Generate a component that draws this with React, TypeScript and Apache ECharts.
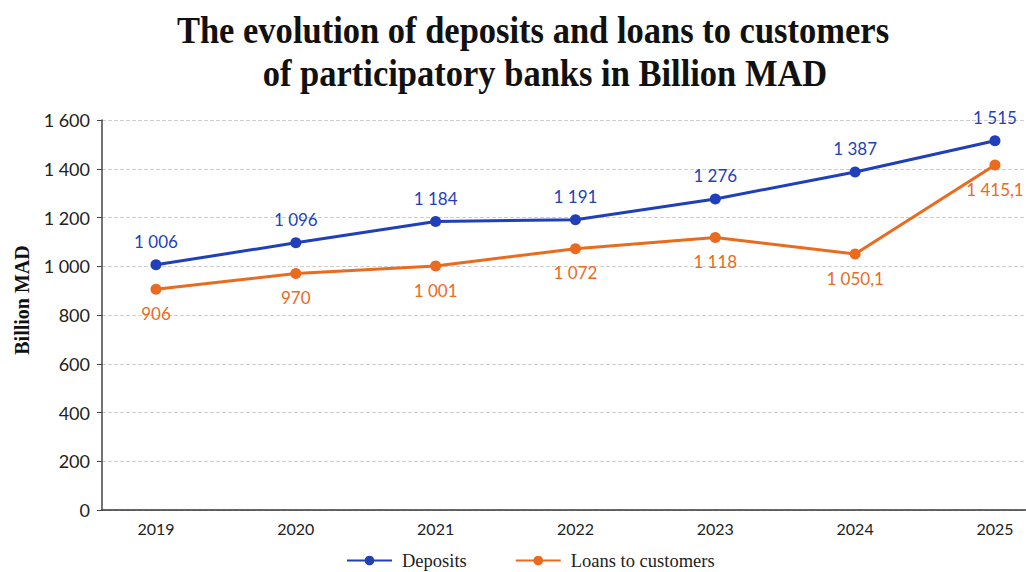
import React, { useEffect, useRef } from "react";
import * as echarts from "echarts";

const years = [2019, 2020, 2021, 2022, 2023, 2024, 2025];
const deposits = [1006, 1096, 1184, 1191, 1276, 1387, 1515];
const loans = [906, 970, 1001, 1072, 1118, 1050.1, 1415.1];
const seriesNames = ["Deposits", "Loans to customers"];
const titleLines = [
  "The evolution of deposits and loans to customers",
  "of participatory banks in Billion MAD",
];
const yName = "Billion MAD";

const BLUE = "#1f3fbb";
const ORANGE = "#ea6a1e";

function fmt(v: number): string {
  const [i, d] = String(v).split(".");
  const ii = i.replace(/\B(?=(\d{3})+(?!\d))/g, " ");
  return d ? ii + "," + d : ii;
}

export default function App() {
  const ref = useRef<HTMLDivElement>(null);
  useEffect(() => {
    if (!ref.current) return;
    const chart = echarts.init(ref.current, null, { renderer: "svg" });
    const labelFont = { fontFamily: "Lato", fontSize: 17 };
    const titleFont = 'bold 39px "Liberation Serif"';
    chart.setOption({
      animation: false,
      backgroundColor: "#ffffff",
      graphic: [
        {
          type: "text",
          x: 533,
          y: 30,
          scaleX: 0.885,
          style: { text: titleLines[0], font: titleFont, fill: "#111", textAlign: "center", textVerticalAlign: "middle" },
        },
        {
          type: "text",
          x: 545,
          y: 73,
          scaleX: 0.885,
          style: { text: titleLines[1], font: titleFont, fill: "#111", textAlign: "center", textVerticalAlign: "middle" },
        },
        {
          type: "text",
          x: 22,
          y: 300,
          rotation: Math.PI / 2,
          style: {
            text: yName,
            font: 'bold 20px "Liberation Serif"',
            fill: "#111",
            textAlign: "center",
            textVerticalAlign: "middle",
          },
        },
      ],
      legend: {
        bottom: -3,
        left: 341,
        itemWidth: 45,
        itemHeight: 12,
        itemGap: 48,
        textStyle: { fontFamily: "Liberation Serif", fontSize: 18.5, color: "#222", padding: [0, 0, 0, 5] },
        data: seriesNames,
      },
      grid: { left: 102, right: 0, top: 120, bottom: 62, containLabel: false },
      xAxis: {
        type: "value",
        min: 2018.614,
        max: 2025.222,
        minInterval: 1,
        maxInterval: 1,
        axisLine: { show: true, lineStyle: { color: "#333", width: 1.5 } },
        axisTick: { show: false },
        splitLine: { show: false },
        axisLabel: {
          ...labelFont,
          fontSize: 16,
          color: "#222",
          margin: 10,
          formatter: (v: number) => (Number.isInteger(v) ? String(v) : ""),
          showMinLabel: false,
          showMaxLabel: false,
        },
      },
      yAxis: {
        type: "value",
        min: 0,
        max: 1600,
        interval: 200,
        axisLine: { show: true, lineStyle: { color: "#444", width: 1.5 } },
        axisTick: { show: true, length: 5, lineStyle: { color: "#444" } },
        splitLine: { show: true, lineStyle: { color: "#cfcfcf", type: "dashed", width: 1 } },
        axisLabel: { ...labelFont, fontSize: 18, color: "#222", margin: 12, formatter: (v: number) => fmt(v) },
      },
      series: [
        {
          name: seriesNames[0],
          type: "line",
          data: years.map((y, i) => [y, deposits[i]]),
          color: BLUE,
          symbol: "circle",
          symbolSize: 11,
          lineStyle: { width: 3, color: BLUE },
          itemStyle: { color: BLUE },
          label: {
            show: true,
            position: "top",
            distance: 9,
            color: BLUE,
            ...labelFont,
            formatter: (p: any) => fmt(p.value[1]),
          },
        },
        {
          name: seriesNames[1],
          type: "line",
          data: years.map((y, i) => [y, loans[i]]),
          color: ORANGE,
          symbol: "circle",
          symbolSize: 11,
          lineStyle: { width: 3, color: ORANGE },
          itemStyle: { color: ORANGE },
          label: {
            show: true,
            position: "bottom",
            distance: 10,
            color: ORANGE,
            ...labelFont,
            formatter: (p: any) => fmt(p.value[1]),
          },
        },
      ],
    });
    return () => chart.dispose();
  }, []);
  return (
    <div
      ref={ref}
      style={{ position: "fixed", left: 0, top: 0, width: 1026, height: 572 }}
    />
  );
}
